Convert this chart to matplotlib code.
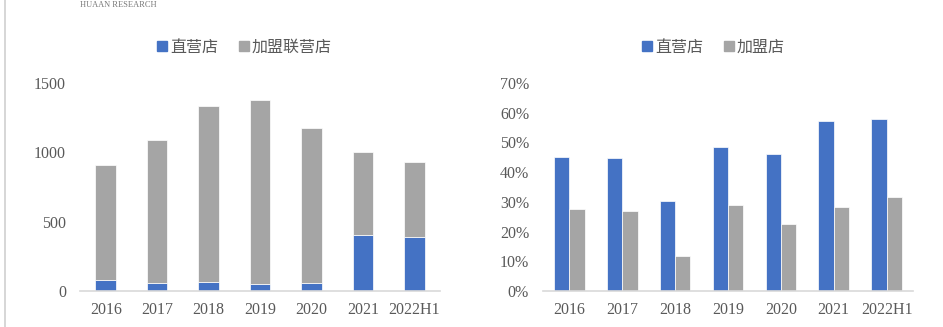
import matplotlib.pyplot as plt
from matplotlib.lines import Line2D
import numpy as np

plt.rcParams['font.family'] = ['Liberation Serif', 'Noto Sans CJK SC']

years = ['2016', '2017', '2018', '2019', '2020', '2021', '2022H1']

# 门店数量（家）
direct_stores = [82, 58, 65, 50, 58, 404, 389]
total_stores = [909, 1091, 1337, 1375, 1175, 1000, 930]
franchise_stores = [t - d for t, d in zip(total_stores, direct_stores)]

# 毛利率（%）
direct_margin = [45.2, 44.7, 30.3, 48.6, 46.1, 57.1, 58.0]
franchise_margin = [27.7, 27.0, 11.8, 28.8, 22.4, 28.3, 31.6]

BLUE = '#4472C4'
GRAY = '#A5A5A5'
TXT = '#595959'

fig = plt.figure(figsize=(9.43, 3.27), dpi=100)
W, H = 943, 327


def px_axes(x0, x1, y_top, y_bot):
    return fig.add_axes([x0 / W, 1 - y_bot / H, (x1 - x0) / W, (y_bot - y_top) / H])


def style(ax):
    for s in ['top', 'right', 'left']:
        ax.spines[s].set_visible(False)
    ax.spines['bottom'].set_color('#d9d9d9')
    ax.spines['bottom'].set_linewidth(1.2)
    ax.tick_params(axis='both', length=0, labelsize=11.5, colors=TXT)
    ax.tick_params(axis='y', pad=10)
    ax.tick_params(axis='x', pad=8)


x = np.arange(len(years))

# 左图：门店数量堆积柱状图
ax1 = px_axes(80, 440, 83, 291)
ax1.bar(x, direct_stores, width=0.4, color=BLUE, edgecolor='white', linewidth=0.5)
ax1.bar(x, franchise_stores, width=0.4, bottom=direct_stores, color=GRAY,
        edgecolor='white', linewidth=0.5)
ax1.set_xlim(-0.5, len(years) - 0.5)
ax1.set_ylim(0, 1500)
ax1.set_yticks([0, 500, 1000, 1500])
ax1.set_xticks(x)
ax1.set_xticklabels(years)
style(ax1)

# 右图：毛利率分组柱状图
ax2 = px_axes(543, 913, 83, 291)
bw = 0.29
ax2.bar(x - bw / 2, direct_margin, width=bw, color=BLUE, edgecolor='white', linewidth=0.5)
ax2.bar(x + bw / 2, franchise_margin, width=bw, color=GRAY, edgecolor='white', linewidth=0.5)
ax2.set_xlim(-0.5, len(years) - 0.5)
ax2.set_ylim(0, 70)
ax2.set_yticks(range(0, 71, 10))
ax2.set_yticklabels([f'{v}%' for v in range(0, 71, 10)])
ax2.set_xticks(x)
ax2.set_xticklabels(years)
style(ax2)


def legend(labels, x_center):
    handles = [Line2D([], [], marker='s', linestyle='', markersize=7, color=BLUE),
               Line2D([], [], marker='s', linestyle='', markersize=7, color=GRAY)]
    fig.legend(handles, labels, loc='center', bbox_to_anchor=(x_center / W, 1 - 47 / H),
               ncol=2, frameon=False, handletextpad=0.1, columnspacing=1.2,
               handlelength=0.8, prop={'family': 'Noto Sans CJK SC', 'size': 11.5},
               labelcolor=TXT)


legend(['直营店', '加盟联营店'], 244)
legend(['直营店', '加盟店'], 713)

# 页面左侧边框与页眉
fig.add_artist(Line2D([5 / W, 5 / W], [0, 1], color='#d0d0d0', linewidth=1.2))
fig.text(80 / W, 1 - 1 / H, 'HUAAN RESEARCH', fontsize=6, color='#777777',
         va='top', ha='left')

fig.savefig('out.png', dpi=100)
